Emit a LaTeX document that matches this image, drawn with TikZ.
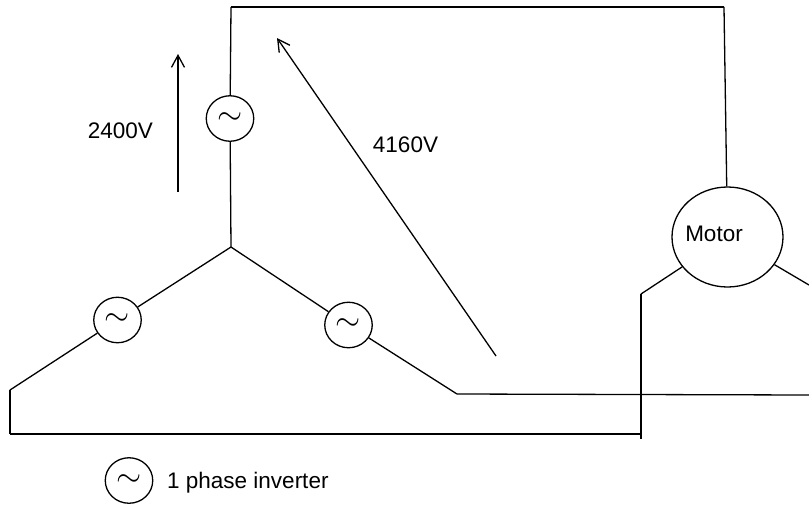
\documentclass[tikz,border=0pt]{standalone}
\usepackage{fontspec}
\setmainfont{Liberation Sans}
\usepackage{tikz}
\usetikzlibrary{arrows.meta}
\usetikzlibrary{shapes.geometric}

\newcommand{\acwave}{\scalebox{1.3}{$\sim$}}

\tikzset{
wire/.style={line width=1.3pt},
volt/.style={line width=1.3pt, -{Straight Barb[length=12pt, width=13pt]}},
inverter/.style={draw, ellipse, line width=1.3pt, inner sep=0pt, minimum width=47.5pt, minimum height=45.5pt, font=\fontsize{24}{24}\selectfont},
motorbody/.style={draw, ellipse, line width=1.3pt, inner sep=0pt, minimum width=111pt, minimum height=100pt},
lbl/.style={inner sep=0pt, font=\fontsize{22.5}{24}\selectfont}
}

\begin{document}
\begin{tikzpicture}[x=1pt, y=-1pt]
\useasboundingbox (0,0) rectangle (809,504);
\node[inverter] (top) at (230,118.5) {\acwave};
\node[inverter] (left) at (117.5,320) {\acwave};
\node[inverter] (right) at (348.5,325) {\acwave};
\node[inverter] (key) at (129,480.5) {\acwave};
\node[motorbody] (motor) at (727.5,237) {};
\coordinate (star) at (231,247);
\coordinate (topleft) at (231,7);
\coordinate (topright) at (724,7);
\coordinate (lefta) at (10,390);
\coordinate (leftb) at (10,434);
\coordinate (leftc) at (641,434);
\coordinate (rightb) at (457,394);
\coordinate (rightc) at (809,395);
\coordinate (feeda) at (641,294);
\coordinate (feedb) at (641,439);
\coordinate (motorout) at (809,285);
\foreach \i/\j in {star/top, top/topleft, topleft/topright, topright/motor, star/left, left/lefta, lefta/leftb, leftb/leftc, star/right, right/rightb, rightb/rightc, feeda/feedb, feeda/motor, motor/motorout}{
\draw[wire] (\i) -- (\j);}
\coordinate (vala) at (178,192);
\coordinate (valb) at (178,54);
\coordinate (vbla) at (496,356);
\coordinate (vblb) at (277,38);
\draw[volt] (vala) -- (valb);
\draw[volt] (vbla) -- (vblb);
\node[lbl] (phase) at (120.3,130.5) {2400V};
\node[lbl] (line) at (405.5,144.3) {4160V};
\node[lbl] (motorname) at (714,233.8) {Motor};
\node[lbl, anchor=base west] (keyname) at (167,488) {1 phase inverter};
\end{tikzpicture}
\end{document}
